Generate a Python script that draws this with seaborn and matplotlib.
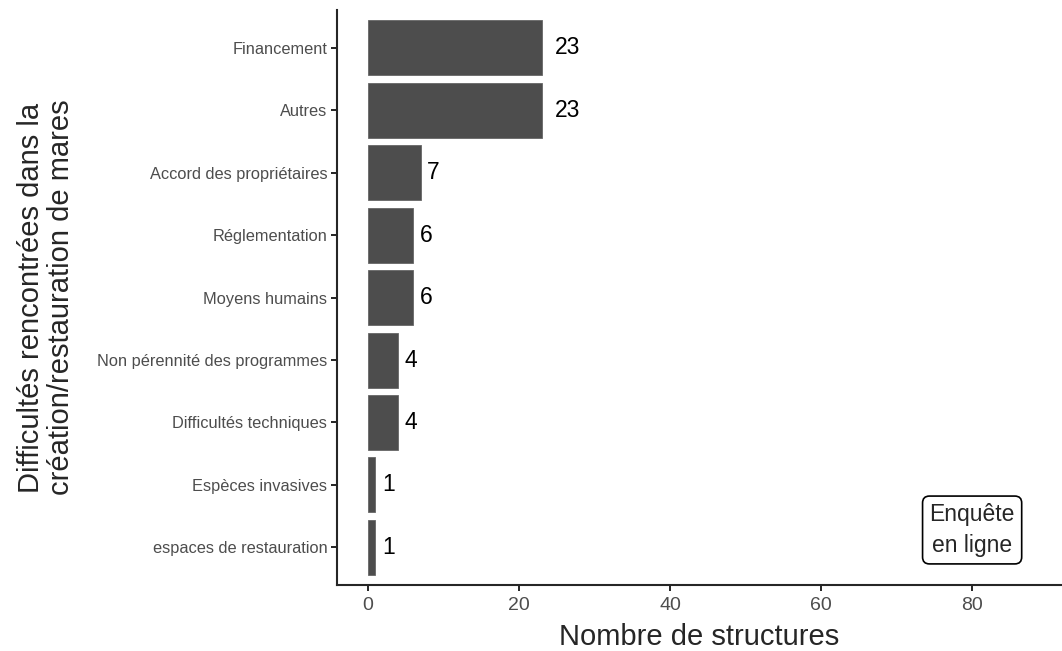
import matplotlib
matplotlib.use("Agg")
from matplotlib import pyplot as plt
import pandas as pd
import seaborn as sns

categories = [
    "Financement",
    "Autres",
    "Accord des propriétaires",
    "Réglementation",
    "Moyens humains",
    "Non pérennité des programmes",
    "Difficultés techniques",
    "Espèces invasives",
    "espaces de restauration",
]
counts = [23, 23, 7, 6, 6, 4, 4, 1, 1]

sns.set_style("ticks")
plt.rcParams["font.family"] = ["Liberation Sans", "DejaVu Sans"]

df = pd.DataFrame({"difficulte": categories, "n": counts})

fig = plt.figure(figsize=(10.62, 6.51), dpi=100)
ax = fig.add_axes([0.3173, 0.1014, 0.6827, 0.8832])

sns.barplot(df, x="n", y="difficulte", orient="h", color="#4d4d4d",
            saturation=1, width=0.88, edgecolor="#666666", linewidth=0.6, ax=ax)

# value labels just right of each bar (like hjust=-0.5)
for i, v in enumerate(counts):
    s = str(v)
    ax.annotate(s, xy=(v, i), xytext=(4.6 * len(s), 0), textcoords="offset points",
                ha="left", va="center", fontsize=16.5, color="black")

ax.text(80, 7.72, "Enquête\nen ligne", ha="center", va="center", fontsize=16.5,
        linespacing=1.45,
        bbox=dict(boxstyle="round,pad=0.3,rounding_size=0.3", fc="white", ec="black", lw=1.2))

ax.set_xlim(-4.1, 91.9)
ax.set_ylim(8.6, -0.6)
ax.set_xticks([0, 20, 40, 60, 80])
ax.set_xlabel("Nombre de structures", fontsize=21, labelpad=6)
ax.set_ylabel("Difficultés rencontrées dans la\ncréation/restauration de mares",
              fontsize=21, linespacing=1.05)
ax.yaxis.set_label_coords(-0.362, 0.5)

ax.tick_params(axis="x", labelsize=14, length=4, width=1.2, pad=5)
ax.tick_params(axis="y", labelsize=11.8, length=4, width=1.2, pad=3)
ax.tick_params(colors="black", which="both", labelcolor="#4d4d4d")

sns.despine(ax=ax)
ax.spines["left"].set_linewidth(1.5)
ax.spines["bottom"].set_linewidth(1.5)

fig.savefig("out.png", dpi=100)
